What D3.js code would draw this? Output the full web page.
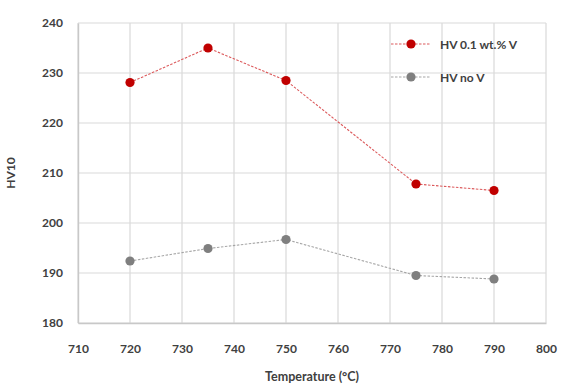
<!DOCTYPE html>
<html>
<head>
<meta charset="utf-8">
<script src="https://cdn.jsdelivr.net/npm/d3@7"></script>
<style>
body { margin: 0; background: #fff; }
text { font-family: Lato, "Open Sans", sans-serif; fill: #404040; }
</style>
</head>
<body>
<div id="chart-area"></div>
<script>
// data
var temps = [720, 735, 750, 775, 790];
var hvWithV = [228.1, 235.0, 228.5, 207.8, 206.5];
var hvNoV = [192.4, 194.9, 196.7, 189.5, 188.8];
var xTicks = [710, 720, 730, 740, 750, 760, 770, 780, 790, 800];
var yTicks = [180, 190, 200, 210, 220, 230, 240];
var seriesNames = ['HV 0.1 wt.% V', 'HV no V'];

var svgWidth = 570, svgHeight = 385;
var margin = {left: 78, right: 24, top: 23, bottom: 62};
var width = svgWidth - margin.left - margin.right;
var height = svgHeight - margin.top - margin.bottom;

var svg = d3.select('#chart-area')
    .append('svg')
    .attr('width', svgWidth)
    .attr('height', svgHeight);

var g = svg.append('g').attr('transform', 'translate(' + margin.left + ',' + margin.top + ')');

var x = d3.scaleLinear().domain([710, 800]).range([0, width]);
var y = d3.scaleLinear().domain([180, 240]).range([height, 0]);

// grid
g.selectAll('.vgrid').data(xTicks).enter().append('line')
    .attr('x1', d => x(d)).attr('x2', d => x(d))
    .attr('y1', 0).attr('y2', height)
    .attr('stroke', '#d9d9d9').attr('stroke-width', 1.2);
g.selectAll('.hgrid').data(yTicks).enter().append('line')
    .attr('y1', d => y(d)).attr('y2', d => y(d))
    .attr('x1', 0).attr('x2', width)
    .attr('stroke', '#d9d9d9').attr('stroke-width', 1.2);

// axes
var xAxis = d3.axisBottom(x).tickValues(xTicks).tickSize(0).tickPadding(21);
var xg = g.append('g').attr('transform', 'translate(0,' + height + ')').call(xAxis);
xg.select('.domain').attr('stroke', '#c8c8c8').attr('stroke-width', 1.4);
xg.selectAll('text').attr('font-size', 12).attr('font-weight', 'bold').style('font-family', 'Lato, sans-serif').attr('fill', '#404040');

var yAxis = d3.axisLeft(y).tickValues(yTicks).tickSize(0).tickPadding(15);
var yg = g.append('g').call(yAxis);
yg.select('.domain').attr('stroke', '#c8c8c8').attr('stroke-width', 1.4);
yg.selectAll('text').attr('font-size', 12).attr('font-weight', 'bold').style('font-family', 'Lato, sans-serif').attr('fill', '#404040');

// axis labels
svg.append('text')
    .attr('x', margin.left + width / 2)
    .attr('y', 381)
    .attr('text-anchor', 'middle')
    .attr('font-size', 12.5)
    .attr('font-weight', 'bold')
    .text('Temperature (°C)');

svg.append('text')
    .attr('transform', 'translate(15,' + (margin.top + height / 2) + ') rotate(-90)')
    .attr('text-anchor', 'middle')
    .attr('font-size', 12)
    .attr('font-weight', 'bold')
    .text('HV10');

// series
var series = [
    {name: seriesNames[0], values: hvWithV, color: '#c00000', line: '#dc5a5c'},
    {name: seriesNames[1], values: hvNoV, color: '#7f7f7f', line: '#a6a6a6'}
];

var line = d3.line().x((d, i) => x(temps[i])).y(d => y(d));

series.forEach(s => {
    g.append('path')
        .datum(s.values)
        .attr('d', line)
        .attr('fill', 'none')
        .attr('stroke', s.line)
        .attr('stroke-width', 1.1)
        .attr('stroke-dasharray', '2.5,1.5');
    g.selectAll(null).data(s.values).enter().append('circle')
        .attr('cx', (d, i) => x(temps[i]))
        .attr('cy', d => y(d))
        .attr('r', 4.6)
        .attr('fill', s.color);
});

// legend
var legend = svg.append('g').attr('transform', 'translate(391,44)');
series.forEach((s, i) => {
    var lg = legend.append('g').attr('transform', 'translate(0,' + (i * 33) + ')');
    lg.append('line').attr('x1', 0).attr('x2', 40).attr('y1', 0).attr('y2', 0)
        .attr('stroke', s.line).attr('stroke-width', 1.1).attr('stroke-dasharray', '2.5,1.5');
    lg.append('circle').attr('cx', 20).attr('cy', 0).attr('r', 4.6).attr('fill', s.color);
    lg.append('text').attr('x', 49).attr('y', 4.5).attr('font-size', 12).attr('font-weight', 'bold').text(s.name);
});
</script>
</body>
</html>
